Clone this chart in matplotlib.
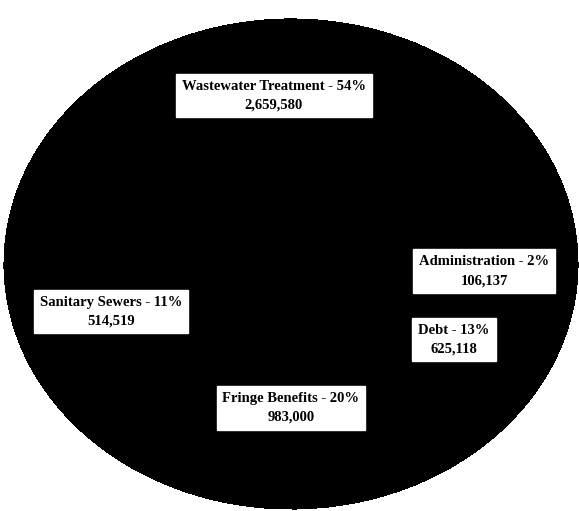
import matplotlib
matplotlib.use("Agg")
import matplotlib.pyplot as plt

## ----------------------------------------------------------------------------
## Data
## ----------------------------------------------------------------------------
categories = ["Wastewater Treatment", "Administration", "Debt",
              "Fringe Benefits", "Sanitary Sewers"]
amounts = [2659580, 106137, 625118, 983000, 514519]
percents = [54, 2, 13, 20, 11]

# where each label box sits (axes data units, pie radius = 1)
label_pos = [(-0.06, 0.69), (0.675, -0.03), (0.57, -0.31),
             (0.0, -0.59), (-0.63, -0.195)]

## ----------------------------------------------------------------------------
## Plot
## ----------------------------------------------------------------------------
fig = plt.figure(figsize=(5.79, 5.11), dpi=100)
ax = fig.add_axes([5 / 579, 3 / 511, 572 / 579, 488 / 511])

ax.pie(amounts, colors=["black"] * len(amounts), startangle=90,
       counterclock=False, radius=1.0,
       wedgeprops=dict(edgecolor="black", linewidth=1.5, antialiased=False))
ax.set_aspect("auto")
ax.set_xlim(-1, 1)
ax.set_ylim(-1, 1)
ax.axis("off")

for name, amt, pct, (x, y) in zip(categories, amounts, percents, label_pos):
    ax.text(x, y, "{} - {}%\n{:,}".format(name, pct, amt),
            ha="center", va="center", fontsize=10.5, fontweight="bold",
            family="Liberation Serif", linespacing=1.6,
            bbox=dict(boxstyle="square,pad=0.4", facecolor="white",
                      edgecolor="white"))

fig.savefig("out.png", dpi=100, facecolor="white")
